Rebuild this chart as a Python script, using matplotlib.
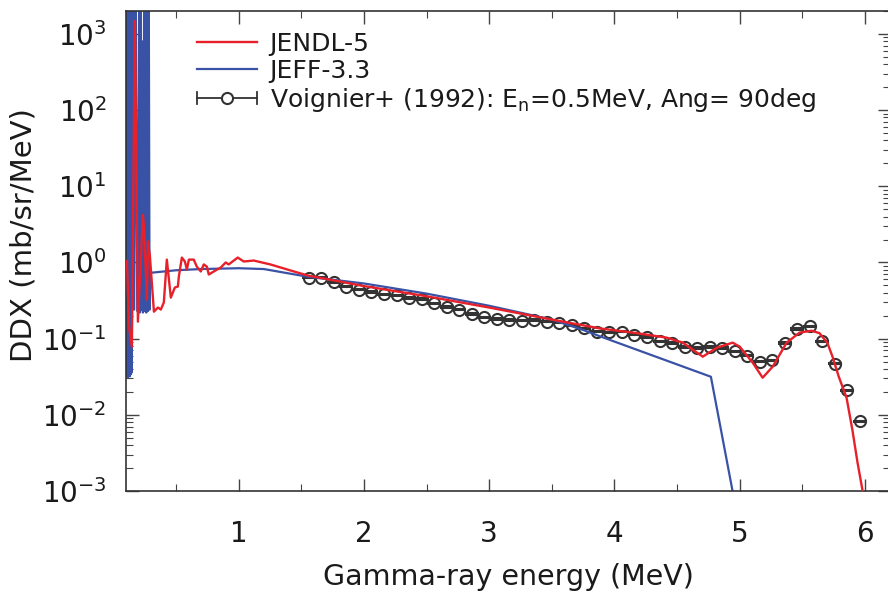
import matplotlib
matplotlib.use("Agg")
import matplotlib.pyplot as plt
from matplotlib.lines import Line2D
from matplotlib.legend_handler import HandlerBase
from matplotlib.ticker import MultipleLocator, LogLocator, NullFormatter

plt.rcParams['font.family'] = ['DejaVu Sans']
plt.rcParams['axes.unicode_minus'] = False
plt.rcParams['mathtext.default'] = 'regular'

# ---------------- data ----------------
# JENDL-5 (red)
jendl_x = [0.105, 0.108, 0.1235, 0.147, 0.171, 0.195, 0.235, 0.243, 0.267, 0.275, 0.291,
           0.323, 0.355, 0.378, 0.402, 0.426, 0.458, 0.49, 0.514, 0.522, 0.546, 0.57,
           0.586, 0.602, 0.641, 0.665, 0.697, 0.721, 0.745, 0.761, 0.801, 0.857, 0.896,
           0.92, 0.992, 1.04, 1.12, 1.255, 1.414, 1.55, 2.0, 2.5, 3.0, 3.5, 3.885, 4.147,
           4.418, 4.546, 4.705, 4.817, 4.944, 5.0, 5.104, 5.183, 5.263, 5.375, 5.478,
           5.574, 5.637, 5.70, 5.741, 5.79, 5.853, 5.90, 5.94, 5.98, 6.05]
jendl_y = [0.9, 1.05, 0.144, 0.0785, 1480, 0.167, 4.2, 2.98, 0.326, 1.89, 1.2,
           0.226, 0.256, 0.241, 0.298, 1.09, 0.346, 0.469, 0.483, 0.654, 1.16, 1.03,
           0.809, 1.09, 1.09, 0.885, 0.762, 0.942, 0.885, 0.695, 0.762, 0.859, 1.0,
           0.942, 1.16, 1.03, 1.06, 0.94, 0.785, 0.675, 0.49, 0.36, 0.256, 0.178, 0.136, 0.120,
           0.103, 0.0886, 0.058, 0.076, 0.0886, 0.0785, 0.0483, 0.0307, 0.0428, 0.0886, 0.120,
           0.127, 0.118, 0.088, 0.058, 0.032, 0.0168, 0.0063, 0.0024, 0.00103, 0.00022]

# JEFF-3.3 (blue)
jeff_x = [0.104, 0.106, 0.108, 0.110, 0.112, 0.114, 0.116, 0.118, 0.120, 0.122, 0.124,
          0.126, 0.128, 0.130, 0.132, 0.134, 0.136, 0.138, 0.140, 0.142, 0.144, 0.146,
          0.155, 0.165, 0.175, 0.19, 0.205, 0.21, 0.215, 0.222, 0.228, 0.235, 0.245,
          0.25, 0.255, 0.262, 0.268, 0.275, 0.282, 0.288, 0.29,
          0.5, 0.7, 1.0, 1.2, 1.55, 2.0, 2.5, 3.0, 3.5, 3.75, 3.88, 4.77, 5.0]
jeff_y = [3000, 0.032, 3000, 0.035, 3000, 0.031, 3000, 0.04, 3000, 0.033, 3000,
          0.045, 3000, 0.032, 3000, 0.038, 3000, 0.034, 3000, 0.05, 3000, 0.036,
          3000, 0.24, 3000, 0.23, 3000, 0.22, 3000, 0.24, 800, 0.22, 3000,
          0.23, 3000, 0.22, 3000, 0.23, 3000, 0.24, 0.73,
          0.79, 0.82, 0.84, 0.82, 0.65, 0.53, 0.39, 0.27, 0.178, 0.13, 0.108, 0.0316, 0.00032]

# Voignier+ (1992) experimental data
voig_x = [1.56, 1.66, 1.76, 1.86, 1.96, 2.06, 2.16, 2.26, 2.36, 2.46, 2.56, 2.66, 2.76,
          2.86, 2.96, 3.06, 3.16, 3.26, 3.36, 3.46, 3.56, 3.66, 3.76, 3.86, 3.96, 4.06,
          4.16, 4.26, 4.36, 4.46, 4.56, 4.66, 4.76, 4.86, 4.96, 5.06, 5.16, 5.26, 5.36,
          5.46, 5.56, 5.66, 5.76, 5.86, 5.96]
voig_y = [0.63, 0.63, 0.55, 0.48, 0.44, 0.41, 0.38, 0.37, 0.34, 0.33, 0.29, 0.26, 0.24,
          0.21, 0.19, 0.18, 0.175, 0.173, 0.175, 0.166, 0.162, 0.15, 0.136, 0.123, 0.122,
          0.123, 0.113, 0.105, 0.092, 0.087, 0.077, 0.0755, 0.078, 0.0755, 0.068, 0.060,
          0.050, 0.052, 0.088, 0.134, 0.145, 0.092, 0.047, 0.021, 0.0082]
voig_err = [0.013, 0.013, 0.011, 0.010, 0.009, 0.008, 0.008, 0.007, 0.007, 0.007, 0.006,
            0.005, 0.005, 0.004, 0.004, 0.004, 0.004, 0.003, 0.004, 0.003, 0.003, 0.003,
            0.003, 0.002, 0.002, 0.002, 0.002, 0.002, 0.002, 0.002, 0.002, 0.002, 0.002,
            0.002, 0.001, 0.001, 0.001, 0.001, 0.002, 0.003, 0.003, 0.002, 0.001, 0.0004,
            0.0002]

x_ticks = [1, 2, 3, 4, 5, 6]

RED = '#e8202a'
BLUE = '#3a52a6'
DARK = '#333333'
TXT = '#1a1a1a'


class ErrHandler(HandlerBase):
    def create_artists(self, legend, orig_handle, xdescent, ydescent, width, height,
                       fontsize, trans):
        x0, x1 = -xdescent, width - xdescent
        yc = height / 2 - ydescent
        h = height * 0.35
        lw = 1.3
        arts = [Line2D([x0, x1], [yc, yc], color=DARK, lw=lw),
                Line2D([x0, x0], [yc - h, yc + h], color=DARK, lw=lw),
                Line2D([x1, x1], [yc - h, yc + h], color=DARK, lw=lw),
                Line2D([(x0 + x1) / 2], [yc], marker='o', ms=8, mfc='white',
                       mec=DARK, mew=1.5, ls='none')]
        for a in arts:
            a.set_transform(trans)
        return arts


fig = plt.figure(figsize=(8.88, 5.92), dpi=100)
ax = fig.add_axes([126 / 888, 1 - 491 / 592, 764 / 888, 480 / 592])

ax.errorbar(voig_x, voig_y, yerr=voig_err, fmt='o', ms=8, mfc='none', mec=DARK,
            mew=1.5, ecolor=DARK, elinewidth=1.0, capsize=5, capthick=1.0, zorder=1)
ax.plot(jeff_x, jeff_y, color=BLUE, lw=1.6, zorder=2)
ax.plot(jendl_x, jendl_y, color=RED, lw=1.7, zorder=3)

ax.set_yscale('log')
ax.set_xlim(0.1, 6.2)
ax.set_ylim(1e-3, 2000)

ax.set_xticks(x_ticks)
ax.set_xticklabels([str(v) for v in x_ticks])
ax.xaxis.set_minor_locator(MultipleLocator(0.5))
ax.yaxis.set_major_locator(LogLocator(base=10, numticks=20))
ax.yaxis.set_minor_locator(LogLocator(base=10, subs=range(2, 10), numticks=20))
ax.yaxis.set_minor_formatter(NullFormatter())

ax.tick_params(axis='both', which='major', direction='in', length=9, width=1.0,
               top=True, right=True, colors='#444444', labelcolor=TXT, labelsize=20)
ax.tick_params(axis='both', which='minor', direction='in', length=5, width=0.8,
               top=True, right=True, colors='#444444')
ax.tick_params(axis='x', which='major', pad=21)
ax.tick_params(axis='y', which='major', pad=14)

for s in ax.spines.values():
    s.set_linewidth(1.2)
    s.set_color('#333333')

ax.set_xlabel('Gamma-ray energy (MeV)', fontsize=20.5, color=TXT)
ax.set_ylabel('DDX (mb/sr/MeV)', fontsize=21, color=TXT)
ax.xaxis.set_label_coords(0.501, -0.179)
ax.xaxis.label.set_va('center')
ax.yaxis.set_label_coords(-0.134, 0.533)
ax.yaxis.label.set_va('center')

h_red = Line2D([], [], color=RED, lw=1.7)
h_blue = Line2D([], [], color=BLUE, lw=1.6)
h_exp = Line2D([], [], color=DARK)
leg = ax.legend([h_red, h_blue, h_exp],
                ['JENDL-5', 'JEFF-3.3', 'Voignier+ (1992): E$_{n}$=0.5MeV, Ang= 90deg'],
                handler_map={h_exp: ErrHandler()},
                loc='upper left', bbox_to_anchor=(0.093, 0.957), frameon=False,
                fontsize=18, handlelength=2.4, handletextpad=0.5, labelspacing=0.12,
                borderpad=0, borderaxespad=0)
for t in leg.get_texts():
    t.set_color(TXT)

fig.savefig('out.png', dpi=100)
